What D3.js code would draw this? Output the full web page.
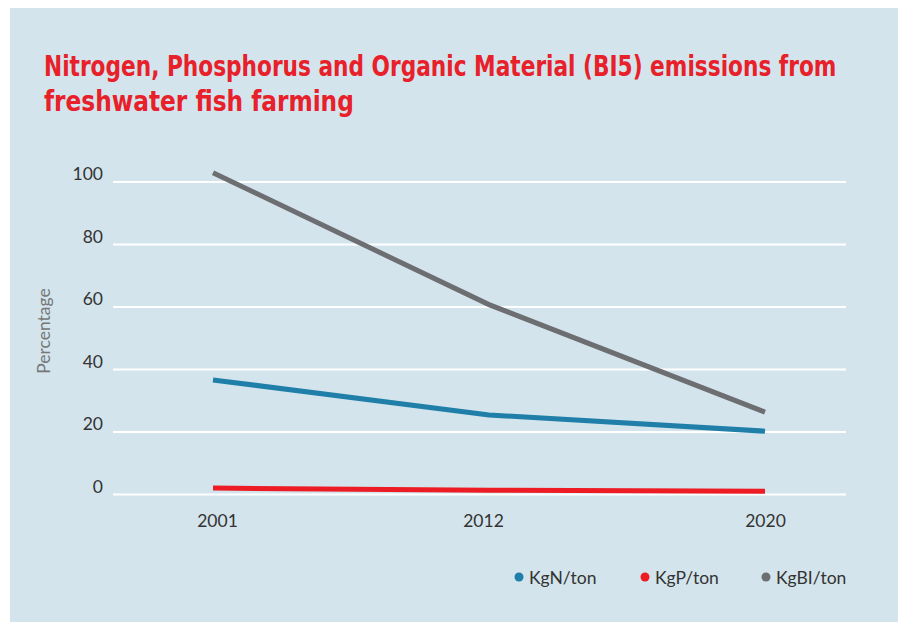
<!DOCTYPE html>
<html><head><meta charset="utf-8">
<script src="https://cdn.jsdelivr.net/npm/d3@7"></script>
<style>body{margin:0;background:#fff}</style>
</head><body>
<svg id="c" width="903" height="622"></svg>
<script>
const years = ["2001", "2012", "2020"];
const kgN = [36.5, 25.3, 20.1];
const kgP = [1.9, 1.2, 0.9];
const kgBI = [102.8, 60.6, 26.2];
const yTicks = [0, 20, 40, 60, 80, 100];
const seriesNames = ["KgN/ton", "KgP/ton", "KgBI/ton"];
const colors = ["#1f7fa8", "#ed1c24", "#6d6e71"];
const titleLines = ["Nitrogen, Phosphorus and Organic Material (BI5) emissions from", "freshwater fish farming"];

const svg = d3.select("#c");
svg.append("rect").attr("x", 10).attr("y", 8).attr("width", 888).attr("height", 614).attr("fill", "#d3e4ec");

const tl = [[44, 76, 793], [44, 111, 310]];
titleLines.forEach((t, i) => {
  const g = svg.append("g");
  const tx = g.append("text").attr("x", 0).attr("y", 0).text(t)
    .attr("font-family", "DejaVu Sans Condensed, DejaVu Sans").attr("font-weight", "bold")
    .attr("font-size", 28).attr("fill", "#e8202a");
  const w = tx.node().getComputedTextLength();
  const sx = Math.min(1, tl[i][2] / w);
  g.attr("transform", `translate(${tl[i][0]},${tl[i][1]}) scale(${sx},1)`);
});

const x = d3.scalePoint().domain(years).range([213, 765]);
const y = d3.scaleLinear().domain([0, 100]).range([494, 181.5]);

const yAxis = svg.append("g").attr("transform", "translate(113,0)")
  .call(d3.axisLeft(y).tickValues(yTicks).tickSize(-733).tickPadding(10));
yAxis.select(".domain").remove();
yAxis.selectAll(".tick line").attr("stroke", "#fff").attr("stroke-width", 2);
yAxis.selectAll(".tick text").attr("font-family", "Lato, sans-serif").attr("font-size", 17.5)
  .attr("fill", "#333").attr("dy", "-0.1em");

const xAxis = svg.append("g").attr("transform", "translate(0,494)")
  .call(d3.axisBottom(x).tickSize(0).tickPadding(21));
xAxis.select(".domain").remove();
xAxis.selectAll(".tick text").attr("font-family", "Lato, sans-serif").attr("font-size", 17.5).attr("fill", "#333")
  .attr("dx", (d, i) => i === 0 ? 4 : (i === 1 ? -6 : 0));

svg.append("text").attr("transform", "translate(50,331) rotate(-90)").attr("text-anchor", "middle")
  .attr("font-family", "Lato, sans-serif").attr("font-size", 17.5).attr("fill", "#777").text("Percentage");

const line = d3.line().x((d, i) => x(years[i])).y(d => y(d));
[kgN, kgP, kgBI].forEach((s, i) => {
  svg.append("path").datum(s).attr("d", line).attr("fill", "none")
    .attr("stroke", colors[i]).attr("stroke-width", 5);
});

const lx = [519, 645, 766];
seriesNames.forEach((n, i) => {
  svg.append("circle").attr("cx", lx[i]).attr("cy", 577).attr("r", 4.5).attr("fill", colors[i]);
  svg.append("text").attr("x", lx[i] + 10).attr("y", 583.5).text(n)
    .attr("font-family", "Lato, sans-serif").attr("font-size", 17.5).attr("fill", "#333");
});
</script>
</body></html>
